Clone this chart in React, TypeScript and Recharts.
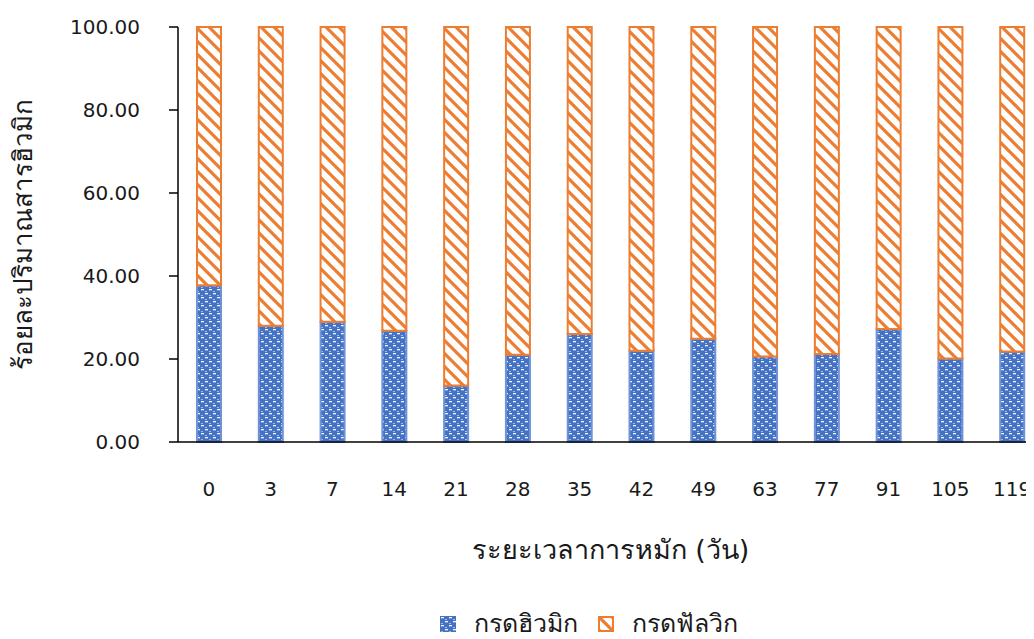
import React from "react";
import { BarChart, Bar, XAxis, YAxis, Legend } from "recharts";

// composting time (days)
const days = ["0", "3", "7", "14", "21", "28", "35", "42", "49", "63", "77", "91", "105", "119"];
// % humic acid
const humicAcid = [37.8, 28.0, 29.0, 26.8, 13.6, 21.0, 26.0, 22.0, 24.9, 20.6, 21.2, 27.2, 20.1, 21.8];
// % fulvic acid
const fulvicAcid = [62.2, 72.0, 71.0, 73.2, 86.4, 79.0, 74.0, 78.0, 75.1, 79.4, 78.8, 72.8, 79.9, 78.2];
const yTicks = [0, 20, 40, 60, 80, 100];

const HUMIC = "กรดฮิวมิก";
const FULVIC = "กรดฟัลวิก";

const data = days.map((d, i) => ({ day: d, humic: humicAcid[i], fulvic: fulvicAcid[i] }));

const FONT = "'DejaVu Sans', Tahoma, sans-serif";
const TEXT = "#1a1a1a";

const YTitle = (props: any) => {
  const { viewBox } = props;
  const cx = 15;
  const cy = viewBox.y + viewBox.height / 2;
  return (
    <text
      x={cx}
      y={cy}
      transform={`rotate(-90 ${cx} ${cy})`}
      textAnchor="middle"
      dominantBaseline="central"
      fill={TEXT}
      fontSize={26}
      fontFamily={FONT}
    >
      ร้อยละปริมาณสารฮิวมิก
    </text>
  );
};

const LegendContent = () => (
  <div style={{ display: "flex", justifyContent: "center", alignItems: "center", gap: 20, fontFamily: FONT, fontSize: 25, color: TEXT, lineHeight: "26px" }}>
    <div style={{ display: "flex", alignItems: "center", gap: 18 }}>
      <svg width={16} height={16}>
        <rect x={0} y={0} width={16} height={16} fill="url(#humicPat)" />
      </svg>
      <span>{HUMIC}</span>
    </div>
    <div style={{ display: "flex", alignItems: "center", gap: 18 }}>
      <svg width={16} height={16}>
        <rect x={1} y={1} width={14} height={14} fill="url(#fulvicPat)" stroke="#ED7D31" strokeWidth={2} />
      </svg>
      <span>{FULVIC}</span>
    </div>
  </div>
);

export default function App() {
  return (
    <div style={{ width: 1026, height: 631, overflow: "hidden", position: "relative" }}>
      <svg width={0} height={0} style={{ position: "absolute" }}>
        <defs>
          <pattern id="humicPat" width={8} height={8} patternUnits="userSpaceOnUse">
            <rect width={8} height={8} fill="#4472C4" />
            <rect x={1} y={1} width={3} height={1.3} fill="#ffffff" opacity={0.95} />
            <rect x={5} y={5} width={3} height={1.3} fill="#ffffff" opacity={0.95} />
            <rect x={5} y={3} width={2} height={1} fill="#e4ebf8" opacity={0.6} />
            <rect x={1} y={7} width={2} height={1} fill="#e4ebf8" opacity={0.6} />
          </pattern>
          <pattern id="fulvicPat" width={13} height={13} patternUnits="userSpaceOnUse">
            <rect width={13} height={13} fill="#ffffff" />
            <path d="M-2,-2 L15,15 M-2,11 L2,15 M11,-2 L15,2" stroke="#ED7D31" strokeWidth={3.2} />
          </pattern>
        </defs>
      </svg>
      <BarChart
        width={1040}
        height={631}
        data={data}
        margin={{ top: 19, right: 5, left: 0, bottom: 2 }}
        barSize={24}
      >
        <XAxis
          dataKey="day"
          interval={0}
          height={169}
          tickSize={0}
          tickMargin={40}
          axisLine={{ stroke: "#000", strokeWidth: 1.5 }}
          tick={{ fill: TEXT, fontSize: 20, fontFamily: FONT }}
          label={{ value: "ระยะเวลาการหมัก (วัน)", position: "insideBottom", offset: 52, fill: TEXT, fontSize: 27, fontFamily: FONT }}
        />
        <YAxis
          width={170}
          domain={[0, 100]}
          ticks={yTicks}
          tickFormatter={(v: number) => v.toFixed(2)}
          tickSize={9}
          tickMargin={29}
          axisLine={{ stroke: "#000", strokeWidth: 1.5 }}
          tickLine={{ stroke: "#000", strokeWidth: 1.5 }}
          tick={{ fill: TEXT, fontSize: 20, fontFamily: FONT }}
          label={<YTitle />}
        />
        <Legend
          verticalAlign="bottom"
          content={<LegendContent />}
          wrapperStyle={{ left: 63, height: 26 }}
        />
        <Bar dataKey="humic" name={HUMIC} stackId="a" fill="url(#humicPat)" stroke="#6F93D6" strokeWidth={2} isAnimationActive={false} />
        <Bar dataKey="fulvic" name={FULVIC} stackId="a" fill="url(#fulvicPat)" stroke="#ED7D31" strokeWidth={2} isAnimationActive={false} />
      </BarChart>
    </div>
  );
}
